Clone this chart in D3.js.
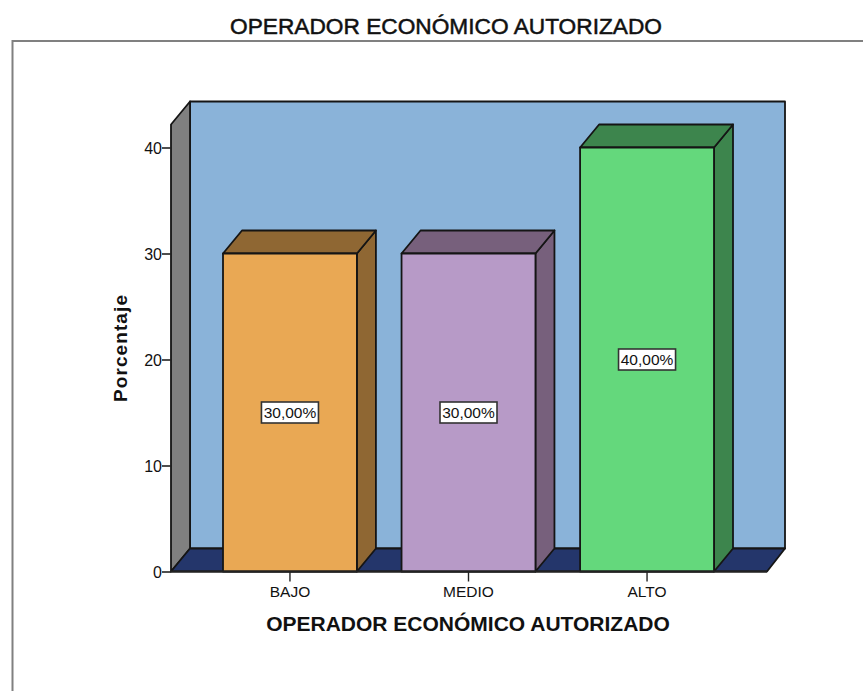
<!DOCTYPE html>
<html>
<head>
<meta charset="utf-8">
<script src="https://cdn.jsdelivr.net/npm/d3@7"></script>
<style>
html, body { margin: 0; padding: 0; background: #fff; overflow: hidden; }
svg { display: block; }
text { font-family: "Liberation Sans", Arial, sans-serif; fill: #111; }
</style>
</head>
<body>
<svg id="chart" width="863" height="691"></svg>
<script>
// data
const categories = ["BAJO", "MEDIO", "ALTO"];
const percentages = [30, 30, 40];
const barLabels = ["30,00%", "30,00%", "40,00%"];
const yTicks = [0, 10, 20, 30, 40];
const frontColors = ["#e9a854", "#b79ac7", "#64d87c"];
const shadeColors = ["#8f6733", "#77607c", "#3d854d"];

const chartTitle = "OPERADOR ECONÓMICO AUTORIZADO";
const yTitle = "Porcentaje";

const svg = d3.select("#chart");

// depth of the fake 3d box
const dx = 19, dy = -23;
const left = 171, right = 767;

const y = d3.scaleLinear().domain([0, 40]).range([571.5, 147.5]);
const yTop = y.invert(124.5);
const x = d3.scaleBand().domain(categories).range([223, 714]).paddingInner(0.25);

const line = d3.line();
const edge = "#151515";

// outer frame, open on the right and bottom
svg.append("path")
  .attr("d", line([[12.5, 691], [12.5, 41], [863, 41]]))
  .attr("fill", "none")
  .attr("stroke", "#808080")
  .attr("stroke-width", 2);

svg.append("text")
  .attr("x", 446)
  .attr("y", 34)
  .attr("text-anchor", "middle")
  .style("font-size", "22.7px")
  .style("stroke", "#111")
  .style("stroke-width", "0.5px")
  .text(chartTitle);

function face(points, fill) {
  svg.append("path")
    .attr("d", line(points) + "Z")
    .attr("fill", fill)
    .attr("stroke", edge)
    .attr("stroke-width", 1.8)
    .attr("stroke-linejoin", "round");
}

// back wall, side wall, floor
face([[left + dx, y(yTop) + dy], [right + dx - 1, y(yTop) + dy], [right + dx - 1, y(0) + dy], [left + dx, y(0) + dy]], "#8ab3d9");
face([[left, y(yTop)], [left + dx, y(yTop) + dy], [left + dx, y(0) + dy], [left, y(0)]], "#808080");
face([[left, y(0)], [left + dx, y(0) + dy], [right + dx - 1, y(0) + dy], [right, y(0)]], "#24366b");

// bars
categories.forEach((c, i) => {
  const x0 = x(c), x1 = x(c) + x.bandwidth();
  const top = y(percentages[i]), base = y(0);
  face([[x1, base], [x1 + dx, base + dy], [x1 + dx, top + dy], [x1, top]], shadeColors[i]);
  face([[x0, top], [x0 + dx, top + dy], [x1 + dx, top + dy], [x1, top]], shadeColors[i]);
  face([[x0, base], [x0, top], [x1, top], [x1, base]], frontColors[i]);
});

// bar value labels
categories.forEach((c, i) => {
  const cx = x(c) + x.bandwidth() / 2;
  const cy = y(percentages[i] / 2);
  svg.append("rect")
    .attr("x", cx - 28.5)
    .attr("y", cy - 10.5)
    .attr("width", 57)
    .attr("height", 21)
    .attr("fill", "#fff")
    .attr("stroke", "#333")
    .attr("stroke-width", 1.6);
  svg.append("text")
    .attr("x", cx)
    .attr("y", cy + 5.5)
    .attr("text-anchor", "middle")
    .style("font-size", "15.5px")
    .text(barLabels[i]);
});

// y axis
const yAxis = svg.append("g")
  .attr("transform", `translate(${left},0)`)
  .call(d3.axisLeft(y).tickValues(yTicks).tickSize(9).tickSizeOuter(0));
yAxis.select(".domain").remove();
yAxis.selectAll(".tick line").attr("stroke", "#222").attr("stroke-width", 1.6);
yAxis.selectAll(".tick text")
  .attr("x", -9)
  .attr("dy", "0.38em")
  .style("font-size", "16px")
  .style("font-family", '"Liberation Sans", Arial, sans-serif');

// x axis ticks, placed at the centre of each whole bar step
const xAxis = svg.append("g")
  .attr("transform", `translate(0,${y(0)})`)
  .call(d3.axisBottom(x).tickSize(10).tickSizeOuter(0));
xAxis.select(".domain").remove();
xAxis.selectAll(".tick line").attr("stroke", "#222").attr("stroke-width", 1.4);
xAxis.selectAll(".tick text")
  .attr("y", 14)
  .attr("dy", "0.71em")
  .style("font-size", "15.5px")
  .style("font-family", '"Liberation Sans", Arial, sans-serif');

svg.append("path")
  .attr("d", line([[left, y(0)], [right, y(0)]]))
  .attr("stroke", "#222")
  .attr("stroke-width", 1.8)
  .attr("fill", "none");

svg.append("text")
  .attr("x", 468)
  .attr("y", 631)
  .attr("text-anchor", "middle")
  .style("font-size", "21px")
  .style("font-weight", "bold")
  .text(chartTitle);

svg.append("text")
  .attr("transform", "translate(127,348) rotate(-90)")
  .attr("text-anchor", "middle")
  .style("font-size", "19px")
  .style("letter-spacing", "1.1px")
  .style("font-weight", "bold")
  .text(yTitle);
</script>
</body>
</html>
